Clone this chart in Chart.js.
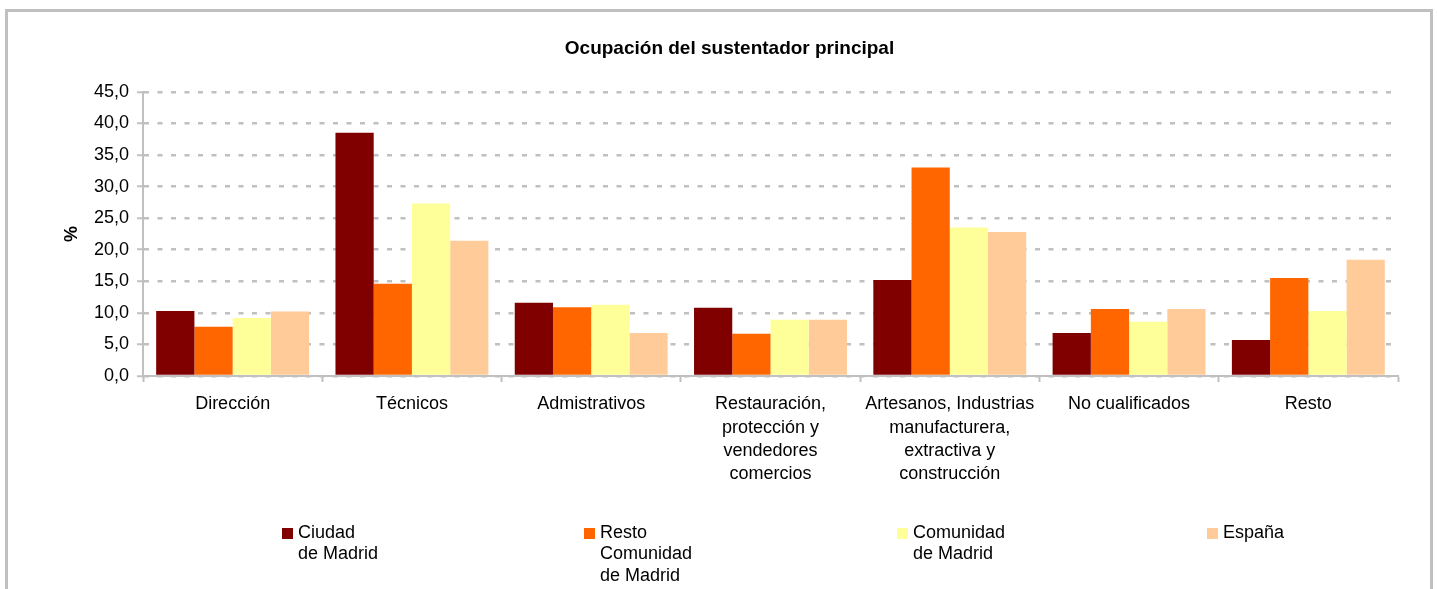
<!DOCTYPE html>
<html>
<head>
<meta charset="utf-8">
<script src="https://cdn.jsdelivr.net/npm/chart.js"></script>
<style>
  body { margin: 0; background: #fff; overflow: hidden; }
  #frame { position: absolute; left: 5px; top: 9px; width: 1428px; height: 620px; border: 3px solid #c0c0c0; box-sizing: border-box; }
  #chart { position: absolute; left: 0; top: 0; }
</style>
</head>
<body>
<div id="frame"></div>
<canvas id="chart" width="1437" height="589"></canvas>
<script>
const categories = [
  'Dirección',
  'Técnicos',
  'Admistrativos',
  ['Restauración,', 'protección y', 'vendedores', 'comercios'],
  ['Artesanos, Industrias', 'manufacturera,', 'extractiva y', 'construcción'],
  'No cualificados',
  'Resto'
];

const ciudadMadrid   = [10.3, 38.5, 11.6, 10.8, 15.2, 6.8, 5.7];
const restoComunidad = [7.8, 14.6, 10.9, 6.7, 33.0, 10.6, 15.5];
const comunidadMadrid = [9.2, 27.3, 11.3, 8.9, 23.5, 8.6, 10.3];
const espana         = [10.2, 21.4, 6.8, 8.9, 22.8, 10.6, 18.4];

const seriesLabels = [
  ['Ciudad', 'de Madrid'],
  ['Resto', 'Comunidad', 'de Madrid'],
  ['Comunidad', 'de Madrid'],
  ['España']
];
const seriesColors = ['#800000', '#ff6600', '#ffff99', '#ffcc99'];

const yTicks = [0, 5, 10, 15, 20, 25, 30, 35, 40, 45];

const FONT = '"Liberation Sans", Arial, sans-serif';
const legendX = [282, 584, 897, 1207];

// leyenda propia: etiquetas en varias lineas como en el original
const legendPlugin = {
  id: 'multiLegend',
  afterDraw(chart){
    const ctx = chart.ctx;
    ctx.save();
    ctx.font = '18px ' + FONT;
    ctx.textBaseline = 'middle';
    ctx.textAlign = 'left';
    chart.data.datasets.forEach((ds, i) => {
      const x = legendX[i];
      ctx.fillStyle = ds.backgroundColor;
      ctx.fillRect(x, 528, 11, 11);
      ctx.fillStyle = '#000';
      seriesLabels[i].forEach((line, j) => {
        ctx.fillText(line, x + 16, 533 + j * 21.5);
      });
    });
    ctx.restore();
  }
};

const ctx = document.getElementById('chart');

new Chart(ctx, {
  type: 'bar',
  data: {
    labels: categories,
    datasets: [ciudadMadrid, restoComunidad, comunidadMadrid, espana].map((d, i) => ({
      label: seriesLabels[i].join(' '),
      data: d,
      backgroundColor: seriesColors[i],
      borderWidth: 0,
      categoryPercentage: 0.853,
      barPercentage: 1
    }))
  },
  options: {
    responsive: false,
    animation: false,
    layout: { padding: { top: 11, left: 61, right: 39, bottom: 0 } },
    plugins: {
      legend: { display: false },
      tooltip: { enabled: false },
      title: {
        display: true,
        text: 'Ocupación del sustentador principal',
        color: '#000',
        font: { family: FONT, size: 19, weight: 'bold', lineHeight: 1.2 },
        padding: { top: 26, bottom: 32 }
      }
    },
    scales: {
      x: {
        grid: {
          drawOnChartArea: false,
          drawTicks: true,
          tickLength: 6,
          tickColor: '#c0c0c0',
          tickWidth: 2,
          offset: true
        },
        border: { display: true, color: '#c0c0c0', width: 2 },
        ticks: {
          color: '#000',
          padding: 11,
          maxRotation: 0,
          autoSkip: false,
          font: { family: FONT, size: 18, lineHeight: 1.28 }
        },
        afterFit(scale){ scale.height = 213; }
      },
      y: {
        min: 0,
        max: 45,
        afterBuildTicks(scale){ scale.ticks = yTicks.map(v => ({ value: v })); },
        grid: {
          color: '#c0c0c0',
          lineWidth: 2.5,
          tickLength: 6,
          tickColor: '#c0c0c0',
          tickWidth: 2,
          tickBorderDash: []
        },
        border: { display: true, color: '#c0c0c0', width: 2, dash: [5, 8.5] },
        ticks: {
          color: '#000',
          padding: 8,
          font: { family: FONT, size: 18 },
          callback: v => v.toFixed(1).replace('.', ',')
        },
        title: {
          display: true,
          text: '%',
          color: '#000',
          padding: 0,
          font: { family: FONT, size: 18, weight: 'bold', lineHeight: 1.2 }
        },
        afterFit(scale){ scale.width = 82; }
      }
    }
  },
  plugins: [legendPlugin]
});
</script>
</body>
</html>
